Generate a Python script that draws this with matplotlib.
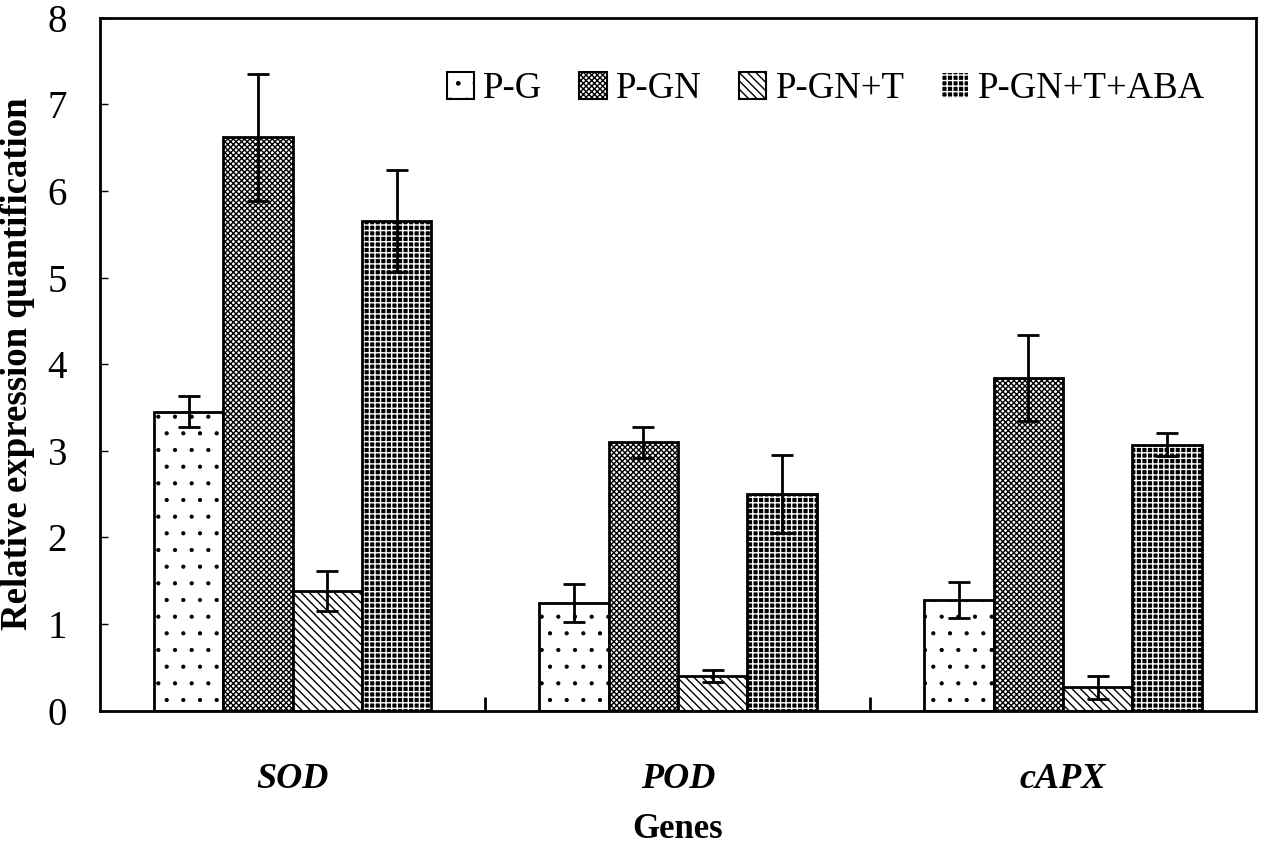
import matplotlib
matplotlib.use("Agg")
import matplotlib.pyplot as plt
import numpy as np

plt.rcParams['font.family'] = ['Liberation Serif', 'DejaVu Serif']
plt.rcParams['hatch.linewidth'] = 1.0

genes = ['SOD', 'POD', 'cAPX']
treatments = ['P-G', 'P-GN', 'P-GN+T', 'P-GN+T+ABA']
means = [
    [3.45, 1.24, 1.28],
    [6.62, 3.10, 3.84],
    [1.38, 0.40, 0.27],
    [5.65, 2.50, 3.07],
]
errors = [
    [0.18, 0.22, 0.21],
    [0.73, 0.18, 0.50],
    [0.23, 0.07, 0.13],
    [0.59, 0.45, 0.13],
]

# fill, hatch colour, hatch per treatment
styles = [
    ('white', 'black', '.'),
    ('white', 'black', 'xxxxxx'),
    ('white', 'black', '\\\\\\\\'),
    ('black', 'white', '+++'),
]

fig = plt.figure(figsize=(12.67, 8.47), dpi=100)
ax = fig.add_axes([0.079, 0.161, 0.912, 0.818])

x = np.arange(len(genes))
w = 0.18
for i, name in enumerate(treatments):
    pos = x + (i - 1.5) * w
    fc, hc, h = styles[i]
    lw = 0.6 if h == '.' else 1.0
    with plt.rc_context({'hatch.linewidth': lw}):
        ax.bar(pos, means[i], w, color=fc, edgecolor=hc, hatch=h, linewidth=0, label=name)
    ax.bar(pos, means[i], w, fill=False, edgecolor='black', linewidth=2)
    ax.errorbar(pos, means[i], yerr=errors[i], fmt='none', ecolor='black',
                elinewidth=2, capsize=8, capthick=2)

ax.set_xlim(-0.5, 2.5)
ax.set_ylim(0, 8)
ax.set_xticks(x)
ax.set_xticklabels(genes, fontsize=26, fontweight='bold', fontstyle='italic')
ax.tick_params(axis='x', length=0, pad=38)
ax.set_xticks([0.5, 1.5], minor=True)
ax.tick_params(axis='x', which='minor', direction='in', length=10, width=2)
ax.set_yticks(range(0, 9))
ax.tick_params(axis='y', direction='in', length=6, width=1, labelsize=28, pad=24)
for s in ax.spines.values():
    s.set_linewidth(2)

ax.set_xlabel('Genes', fontsize=25, fontweight='bold', labelpad=12)
ax.set_ylabel('Relative expression quantification', fontsize=26.5, fontweight='bold')
ax.yaxis.set_label_coords(-0.056, 0.5)

handles = [plt.Rectangle((0, 0), 1, 1, facecolor=s[0], edgecolor=s[1], hatch=s[2]) for s in styles]
leg = ax.legend(handles, treatments, loc='upper right', ncol=4, frameon=False, fontsize=26.5,
                handlelength=0.75, handleheight=0.75, handletextpad=0.25, columnspacing=1.0,
                bbox_to_anchor=(0.985, 0.97))
for hnd in leg.legend_handles:
    hnd.set_linewidth(1.5)

fig.savefig('out.png', dpi=100)
